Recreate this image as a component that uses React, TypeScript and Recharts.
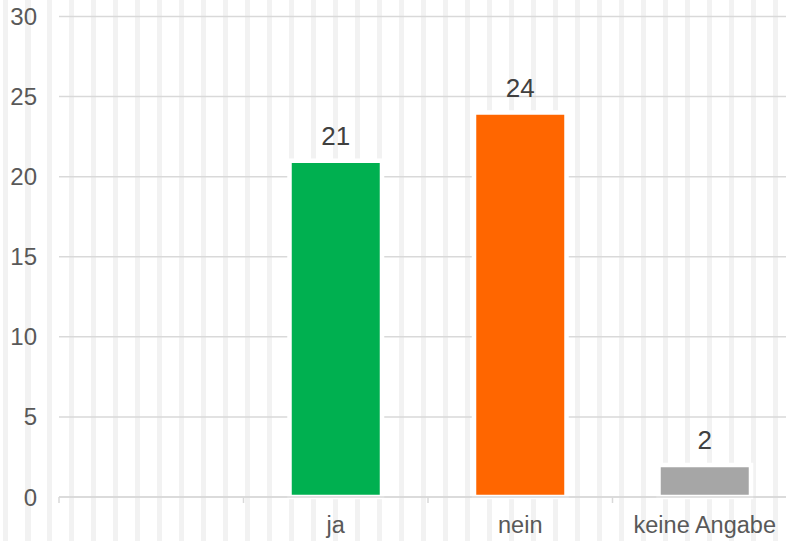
import React from 'react';
import { BarChart, Bar, XAxis, YAxis, CartesianGrid, Cell, LabelList } from 'recharts';

// categories (the first slot is empty in the original chart)
const categories = ['', 'ja', 'nein', 'keine Angabe'];
const answers = [null, 21, 24, 2];
const barColors = ['#ffffff', '#00b050', '#ff6600', '#a6a6a6'];
const yTicks = [0, 5, 10, 15, 20, 25, 30];

const FONT = '"Liberation Sans", Arial, sans-serif';

const data = categories.map((name, i) => ({ name, value: answers[i] }));

// label under each category plus a small tick mark at the left edge of its band
const CategoryTick = (props: any) => {
  const { x, y, payload } = props;
  const half = payload?.offset ?? 0;
  return (
    <g>
      <line x1={x - half} y1={y} x2={x - half} y2={y + 6} stroke="#d9d9d9" strokeWidth={1.5} />
      <text x={x} y={y + 36} textAnchor="middle" fill="#595959" fontSize={23.5} fontFamily={FONT}>
        {payload.value}
      </text>
    </g>
  );
};

const App: React.FC = () => {
  return (
    <div
      style={{
        position: 'fixed',
        left: 0,
        top: 0,
        width: 786,
        height: 541,
        overflow: 'hidden',
        backgroundColor: '#ffffff',
        // light vertical stripes behind the whole chart
        backgroundImage:
          'repeating-linear-gradient(90deg, transparent 0px, transparent 3px, #f2f2f2 3px, #f2f2f2 8.5px, transparent 8.5px, transparent 22px)',
      }}
    >
      <BarChart
        width={800}
        height={541}
        data={data}
        margin={{ top: 16.5, right: 3, bottom: 0, left: 0 }}
      >
        <CartesianGrid vertical={false} stroke="#d9d9d9" strokeWidth={1.5} />
        <XAxis
          dataKey="name"
          interval={0}
          height={44}
          tickLine={false}
          tickSize={0}
          tickMargin={0}
          axisLine={{ stroke: '#d9d9d9', strokeWidth: 1.5 }}
          tick={<CategoryTick />}
        />
        <YAxis
          domain={[0, 30]}
          ticks={yTicks}
          width={59}
          axisLine={false}
          tickLine={false}
          tickSize={0}
          tickMargin={22}
          tick={{ fill: '#595959', fontSize: 24, fontFamily: FONT }}
        />
        <Bar dataKey="value" barSize={92.5} stroke="#ffffff" strokeWidth={4.5} isAnimationActive={false}>
          {data.map((d, i) => (
            <Cell key={d.name + i} fill={barColors[i]} />
          ))}
          <LabelList
            dataKey="value"
            position="top"
            offset={16}
            fill="#404040"
            fontSize={26}
            fontFamily={FONT}
          />
        </Bar>
      </BarChart>
    </div>
  );
};

export default App;
